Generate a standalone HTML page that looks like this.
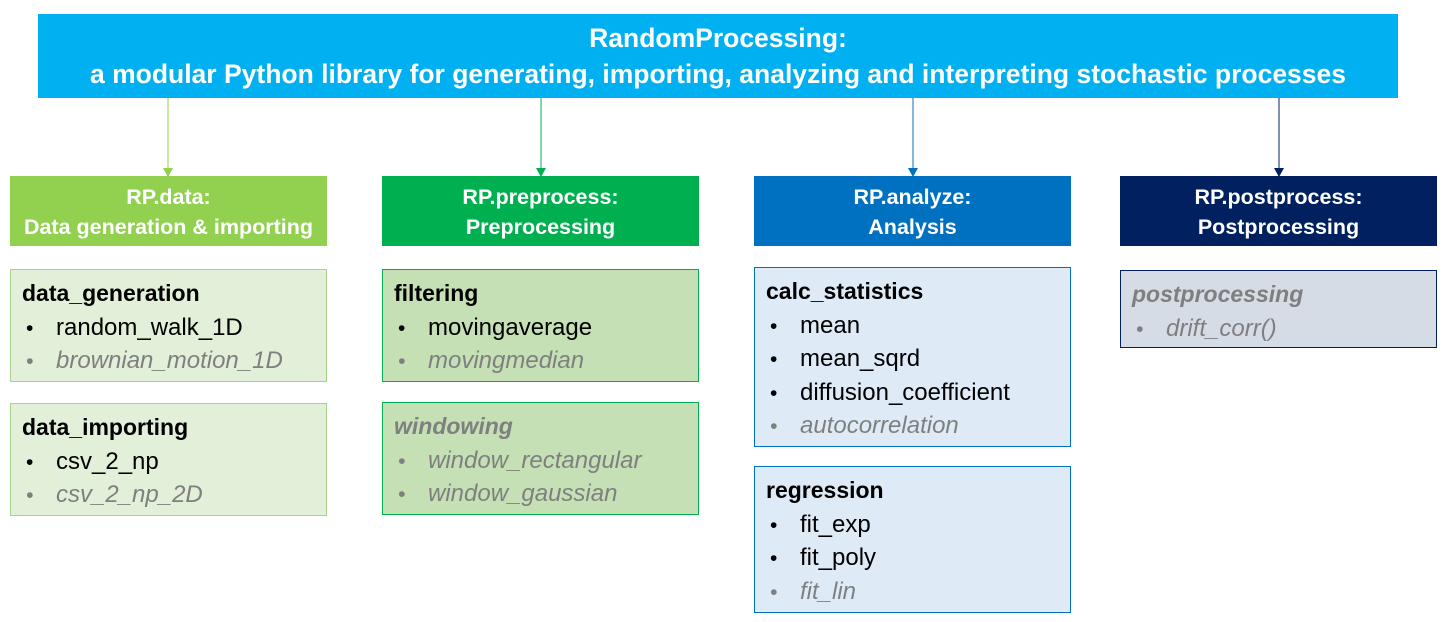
<!DOCTYPE html>
<html><head><meta charset="utf-8"><style>
body{margin:0;width:1443px;height:622px;background:#fff;position:relative;overflow:hidden;font-family:"Liberation Sans",Arial,sans-serif}
.a{position:absolute;box-sizing:border-box}
.t{left:38px;top:14px;width:1360px;height:84px;background:#00b0f0;color:#fff;font-weight:bold;font-size:26.5px;text-align:center;line-height:36px;padding-top:6px;white-space:nowrap}
.h{color:#fff;font-weight:bold;font-size:21.5px;text-align:center;line-height:30px;padding-top:6px;height:70px;width:317px;top:176px;white-space:nowrap}
.b{width:317px;border:1px solid;padding:7px 0 0 11px;font-size:24px}
.b div{height:33.5px;line-height:33.5px;white-space:nowrap}
.b .k{font-weight:bold;font-size:23px}
.b .i{font-style:italic;color:#7f7f7f}
.b span.d{display:inline-block;width:34px;padding-left:4px;box-sizing:border-box;font-size:21px}
</style></head><body>
<div class="a t">RandomProcessing:<br>a modular Python library for generating, importing, analyzing and interpreting stochastic processes</div>
<svg class="a" style="left:0;top:0" width="1443" height="622">
<line x1="168" y1="98" x2="168" y2="170" stroke="#92d050"/><polygon points="163,168 173,168 168,177" fill="#92d050"/>
<line x1="541" y1="98" x2="541" y2="170" stroke="#00b050"/><polygon points="536,168 546,168 541,177" fill="#00b050"/>
<line x1="913" y1="98" x2="913" y2="170" stroke="#0070c0"/><polygon points="908,168 918,168 913,177" fill="#0070c0"/>
<line x1="1279" y1="98" x2="1279" y2="170" stroke="#002060"/><polygon points="1274,168 1284,168 1279,177" fill="#002060"/>
</svg>
<div class="a h" style="left:10px;background:#92d050">RP.data:<br>Data generation &amp; importing</div>
<div class="a h" style="left:382px;background:#00b050">RP.preprocess:<br>Preprocessing</div>
<div class="a h" style="left:754px;background:#0070c0">RP.analyze:<br>Analysis</div>
<div class="a h" style="left:1120px;background:#002060">RP.postprocess:<br>Postprocessing</div>

<div class="a b" style="left:10px;top:269px;height:113px;background:#e2efd9;border-color:#a9d18e">
<div class="k">data_generation</div><div><span class="d">•</span>random_walk_1D</div><div class="i"><span class="d">•</span>brownian_motion_1D</div></div>
<div class="a b" style="left:10px;top:403px;height:113px;background:#e2efd9;border-color:#a9d18e">
<div class="k">data_importing</div><div><span class="d">•</span>csv_2_np</div><div class="i"><span class="d">•</span>csv_2_np_2D</div></div>

<div class="a b" style="left:382px;top:269px;height:113px;background:#c5e0b4;border-color:#00b050">
<div class="k">filtering</div><div><span class="d">•</span>movingaverage</div><div class="i"><span class="d">•</span>movingmedian</div></div>
<div class="a b" style="left:382px;top:402px;height:113px;background:#c5e0b4;border-color:#00b050">
<div class="k i">windowing</div><div class="i"><span class="d">•</span>window_rectangular</div><div class="i"><span class="d">•</span>window_gaussian</div></div>

<div class="a b" style="left:754px;top:267px;height:180px;background:#deebf7;border-color:#0070c0">
<div class="k">calc_statistics</div><div><span class="d">•</span>mean</div><div><span class="d">•</span>mean_sqrd</div><div><span class="d">•</span>diffusion_coefficient</div><div class="i"><span class="d">•</span>autocorrelation</div></div>
<div class="a b" style="left:754px;top:466px;height:147px;background:#deebf7;border-color:#0070c0">
<div class="k">regression</div><div><span class="d">•</span>fit_exp</div><div><span class="d">•</span>fit_poly</div><div class="i"><span class="d">•</span>fit_lin</div></div>

<div class="a b" style="left:1120px;top:270px;height:78px;background:#d6dce5;border-color:#002060">
<div class="k i">postprocessing</div><div class="i"><span class="d">•</span>drift_corr()</div></div>
</body></html>
